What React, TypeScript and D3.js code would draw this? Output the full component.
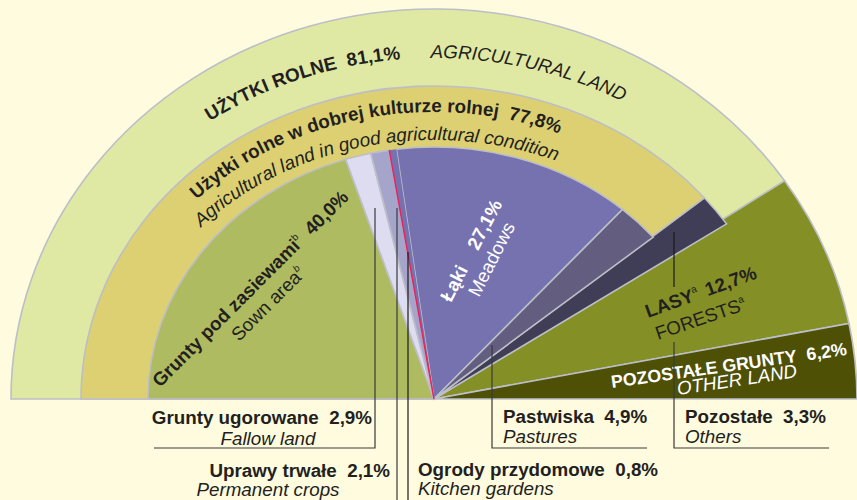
import React from "react";
import * as d3 from "d3";

const W = 857;
const H = 500;
const cx = 434;
const cy = 399;

// udział w powierzchni ogółem, %
const mainKeys = ["uzytki", "lasy", "pozostale"];
const mainValues = [81.1, 12.7, 6.2];
const goodKeys = ["dobra", "pozostaleUR"];
const goodValues = [77.8, 3.3];
const innerKeys = ["zasiewy", "ugory", "trwale", "ogrody", "laki", "pastwiska"];
const innerValues = [40.0, 2.9, 2.1, 0.8, 27.1, 4.9];

const colors: Record<string, string> = {
  uzytki: "#e0e9a3",
  lasy: "#848f25",
  pozostale: "#4e5006",
  dobra: "#dcd072",
  pozostaleUR: "#403d57",
  zasiewy: "#afbb60",
  ugory: "#dedcf0",
  trwale: "#a5a5cc",
  ogrody: "#7672b0",
  laki: "#7672b0",
  pastwiska: "#635e80",
};

const angle = d3.scaleLinear().domain([0, 100]).range([-Math.PI / 2, Math.PI / 2]);

const cumulate = (keys: string[], values: number[]) => {
  let acc = 0;
  return keys.map((k, i) => {
    const s = acc;
    acc += values[i];
    return { key: k, start: s, end: acc };
  });
};

type Part = { key: string; start: number; end: number };

const Ring = ({ rx, ry, parts }: { rx: number; ry: number; parts: Part[] }) => {
  const arc = d3.arc<any>().innerRadius(0).outerRadius(rx);
  // ogródki rysowane na końcu, bez obrysu (widać tylko czerwoną krawędź)
  const ordered = [...parts.filter((p) => p.key !== "ogrody"), ...parts.filter((p) => p.key === "ogrody")];
  return (
    <g transform={`translate(${cx},${cy}) scale(1,${ry / rx})`}>
      {ordered.map((p) => (
        <path
          key={p.key}
          d={arc({ startAngle: angle(p.start), endAngle: angle(p.end) }) as string}
          fill={colors[p.key]}
          stroke={p.key === "ogrody" ? "none" : "#bcbec8"}
          strokeWidth={1.6}
          vectorEffect="non-scaling-stroke"
        />
      ))}
    </g>
  );
};

// łuk elipsy od kąta a0 do a1 (stopnie, matematycznie)
const ellipsePath = (rx: number, ry: number, a0: number, a1: number) => {
  const p = (a: number) => [cx + rx * Math.cos((a * Math.PI) / 180), cy - ry * Math.sin((a * Math.PI) / 180)];
  const [x0, y0] = p(a0);
  const [x1, y1] = p(a1);
  return `M${x0},${y0} A${rx},${ry} 0 0 1 ${x1},${y1}`;
};

const font = "'Liberation Sans', Arial, sans-serif";
const ink = "#231f20";
const fs = 18.8;

const App = () => {
  const outer = cumulate(mainKeys, mainValues);
  const middle = cumulate(goodKeys, goodValues);
  const inner = cumulate(innerKeys, innerValues);
  const redAngle = angle(inner[3].start);
  const rIn = 286;
  const kIn = 252 / 286;

  return (
    <div style={{ position: "absolute", left: 0, top: 0 }}>
      <svg width={W} height={H} style={{ display: "block", background: "#fefbdf" }} fontFamily={font}>
        <defs>
          <path id="tOuter1" d={ellipsePath(386, 341, 125.5, 60)} />
          <path id="tOuter2" d={ellipsePath(386, 341, 90.5, 30)} />
          <path id="tMid1" d={ellipsePath(330, 287, 136, 40)} />
          <path id="tMid2" d={ellipsePath(311, 259, 138.5, 40)} />
        </defs>

        <Ring rx={423} ry={390} parts={outer} />
        <Ring rx={353} ry={313} parts={middle} />
        <Ring rx={rIn} ry={252} parts={inner} />
        <line
          x1={cx}
          y1={cy}
          x2={cx + rIn * Math.sin(redAngle)}
          y2={cy - rIn * kIn * Math.cos(redAngle)}
          stroke="#e8245a"
          strokeWidth={1.5}
        />

        {/* napisy na łukach */}
        <text fontSize={fs} fill={ink} fontWeight="bold">
          <textPath href="#tOuter1">UŻYTKI ROLNE{"\u00a0\u00a0"}81,1%</textPath>
        </text>
        <text fontSize={fs} fill={ink} fontStyle="italic">
          <textPath href="#tOuter2">AGRICULTURAL LAND</textPath>
        </text>
        <text fontSize={fs} fill={ink} fontWeight="bold">
          <textPath href="#tMid1">Użytki rolne w dobrej kulturze rolnej{"\u00a0\u00a0"}77,8%</textPath>
        </text>
        <text fontSize={fs} fill={ink} fontStyle="italic">
          <textPath href="#tMid2">Agricultural land in good agricultural condition</textPath>
        </text>

        {/* etykiety wycinków */}
        <g transform="translate(160,388) rotate(-45)" fill={ink} fontSize={fs}>
          <text fontWeight="bold">
            Grunty pod zasiewami
            <tspan fontSize={10} dy={-8} fontWeight="normal">b</tspan>
            <tspan dy={8} dx={10}>40,0%</tspan>
          </text>
        </g>
        <g transform="translate(239,342) rotate(-45)" fill={ink} fontSize={fs}>
          <text>
            Sown area<tspan fontSize={10} dy={-8} fontStyle="italic">b</tspan>
          </text>
        </g>
        <g transform="translate(451,303) rotate(-62.5)" fill="#ffffff" fontSize={fs}>
          <text fontWeight="bold">Łąki{"\u00a0\u00a0\u00a0\u00a0"}27,1%</text>
        </g>
        <g transform="translate(479,298) rotate(-63)" fill="#ffffff" fontSize={fs}>
          <text>Meadows</text>
        </g>
        <g transform="translate(648,318) rotate(-20)" fill={ink} fontSize={fs}>
          <text fontWeight="bold">
            LASY<tspan fontSize={10} dy={-8} fontWeight="normal">a</tspan>
            <tspan dy={8} dx={8}>12,7%</tspan>
          </text>
        </g>
        <g transform="translate(658,340) rotate(-19)" fill={ink} fontSize={fs}>
          <text>
            FORESTS<tspan fontSize={10} dy={-8}>a</tspan>
          </text>
        </g>
        <g transform="translate(612,388) rotate(-8)" fill="#ffffff" fontSize={17.8}>
          <text fontWeight="bold">POZOSTAŁE GRUNTY{"\u00a0\u00a0"}6,2%</text>
        </g>
        <g transform="translate(678,395) rotate(-8.5)" fill="#ffffff" fontSize={fs}>
          <text fontStyle="italic">OTHER LAND</text>
        </g>

        {/* linie odniesienia */}
        <g fill="none" strokeWidth={1.2}>
          <polyline points="375,208 375,448 154,448" stroke="#3a3a3a" />
          <line x1={397} y1={208} x2={397} y2={500} stroke="#3a3a3a" />
          <line x1={408} y1={252} x2={408} y2={500} stroke="#1a1a1a" />
          <polyline points="492,345 492,448 647,448" stroke="#3a3a3a" />
          <line x1={674} y1={232} x2={674} y2={287} stroke="#1a1a1a" />
          <polyline points="674,342 674,448 829,448" stroke="#3a3a3a" />
        </g>

        {/* opisy pod wykresem */}
        <g fill={ink} fontSize={fs}>
          <text x={372} y={424} textAnchor="end" fontWeight="bold">Grunty ugorowane{"\u00a0\u00a0"}2,9%</text>
          <text x={268} y={445} textAnchor="middle" fontStyle="italic">Fallow land</text>
          <text x={390} y={477} textAnchor="end" fontWeight="bold">Uprawy trwałe{"\u00a0\u00a0"}2,1%</text>
          <text x={268} y={496} textAnchor="middle" fontStyle="italic">Permanent crops</text>
          <text x={418} y={476} fontWeight="bold">Ogrody przydomowe{"\u00a0\u00a0"}0,8%</text>
          <text x={418} y={495} fontStyle="italic">Kitchen gardens</text>
          <text x={503} y={423} fontWeight="bold">Pastwiska{"\u00a0\u00a0"}4,9%</text>
          <text x={503} y={443} fontStyle="italic">Pastures</text>
          <text x={685} y={423} fontWeight="bold">Pozostałe{"\u00a0\u00a0"}3,3%</text>
          <text x={685} y={443} fontStyle="italic">Others</text>
        </g>
      </svg>
    </div>
  );
};

export default App;
